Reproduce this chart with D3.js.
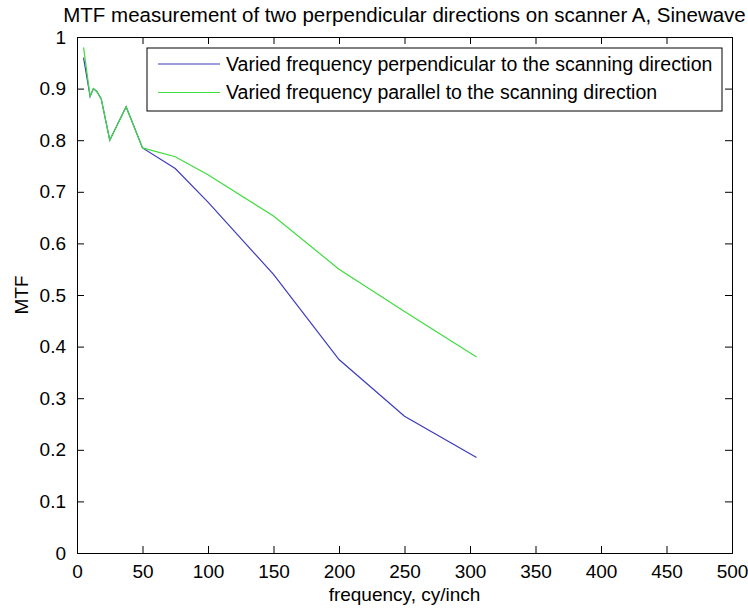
<!DOCTYPE html>
<html>
<head>
<meta charset="utf-8">
<script src="https://cdnjs.cloudflare.com/ajax/libs/d3/7.8.5/d3.min.js"></script>
<style>
  html, body { margin: 0; padding: 0; background: #fff; }
  svg text { font-family: "Liberation Sans", Arial, sans-serif; fill: #000; }
</style>
</head>
<body>
<div id="chart"></div>
<script>
// frequency samples (cy/inch)
const frequency = [5, 10, 12.5, 15, 18.5, 25, 37.5, 50, 75, 100, 150, 200, 250, 305];
// MTF, varied frequency perpendicular to the scanning direction
const mtfPerpendicular = [0.96, 0.885, 0.90, 0.895, 0.88, 0.80, 0.865, 0.785, 0.745, 0.68, 0.54, 0.375, 0.265, 0.185];
// MTF, varied frequency parallel to the scanning direction
const mtfParallel = [0.98, 0.885, 0.90, 0.895, 0.88, 0.80, 0.865, 0.785, 0.768, 0.733, 0.653, 0.55, 0.468, 0.38];

const xTicks = d3.range(0, 501, 50);
const yTicks = [0, 0.1, 0.2, 0.3, 0.4, 0.5, 0.6, 0.7, 0.8, 0.9, 1];
const legendLabels = [
  'Varied frequency perpendicular to the scanning direction',
  'Varied frequency parallel to the scanning direction'
];
const seriesColors = ['#3c3cbc', '#3edc3e'];

const width = 748, height = 611;
const margin = { top: 37, right: 16, bottom: 58, left: 77 };
const plotW = width - margin.left - margin.right;
const plotH = height - margin.top - margin.bottom;

const svg = d3.select('#chart').append('svg')
  .attr('width', width)
  .attr('height', height);

const x = d3.scaleLinear().domain([0, 500]).range([0, plotW]);
const y = d3.scaleLinear().domain([0, 1]).range([plotH, 0]);

const g = svg.append('g').attr('transform', `translate(${margin.left},${margin.top})`);

const tickLen = 7;
const fmt = d => d3.format('~g')(d);

// bottom and left axes, ticks pointing inward like matlab
const xAxis = g.append('g').attr('transform', `translate(0,${plotH})`)
  .call(d3.axisBottom(x).tickValues(xTicks).tickSize(-tickLen).tickPadding(tickLen + 5).tickFormat(fmt));
const yAxis = g.append('g')
  .call(d3.axisLeft(y).tickValues(yTicks).tickSize(-tickLen).tickPadding(tickLen + 4).tickFormat(fmt));
// top and right: ticks only
const xTop = g.append('g')
  .call(d3.axisTop(x).tickValues(xTicks).tickSize(-tickLen).tickFormat(''));
const yRight = g.append('g').attr('transform', `translate(${plotW},0)`)
  .call(d3.axisRight(y).tickValues(yTicks).tickSize(-tickLen).tickFormat(''));

[xAxis, yAxis, xTop, yRight].forEach(a => {
  a.selectAll('path, line').attr('stroke', '#000').attr('stroke-width', 1);
  a.selectAll('text').style('font-size', '19px');
});

// lines
const line = d3.line().x((d, i) => x(frequency[i])).y(d => y(d));
[mtfPerpendicular, mtfParallel].forEach((s, k) => {
  g.append('path')
    .attr('d', line(s))
    .attr('fill', 'none')
    .attr('stroke', seriesColors[k])
    .attr('stroke-width', 1.2);
});

// legend
const legend = svg.append('g').attr('transform', 'translate(147,48)');
legend.append('rect')
  .attr('width', 575).attr('height', 63)
  .attr('fill', '#fff').attr('stroke', '#000').attr('stroke-width', 1);
legendLabels.forEach((lbl, i) => {
  const ly = 16 + i * 28.5;
  legend.append('line')
    .attr('x1', 11).attr('x2', 73).attr('y1', ly).attr('y2', ly)
    .attr('stroke', seriesColors[i]).attr('stroke-width', 1.2);
  legend.append('text')
    .attr('x', 79).attr('y', ly).attr('dy', '0.35em')
    .style('font-size', '19.5px')
    .text(lbl);
});

// title and axis labels
svg.append('text')
  .attr('x', margin.left + plotW / 2).attr('y', 22)
  .attr('text-anchor', 'middle')
  .style('font-size', '20.5px')
  .text('MTF measurement of two perpendicular directions on scanner A, Sinewave');

svg.append('text')
  .attr('x', margin.left + plotW / 2).attr('y', 601)
  .attr('text-anchor', 'middle')
  .style('font-size', '19px')
  .text('frequency, cy/inch');

svg.append('text')
  .attr('transform', `translate(28,${margin.top + plotH / 2}) rotate(-90)`)
  .attr('text-anchor', 'middle')
  .style('font-size', '19px')
  .text('MTF');
</script>
</body>
</html>
